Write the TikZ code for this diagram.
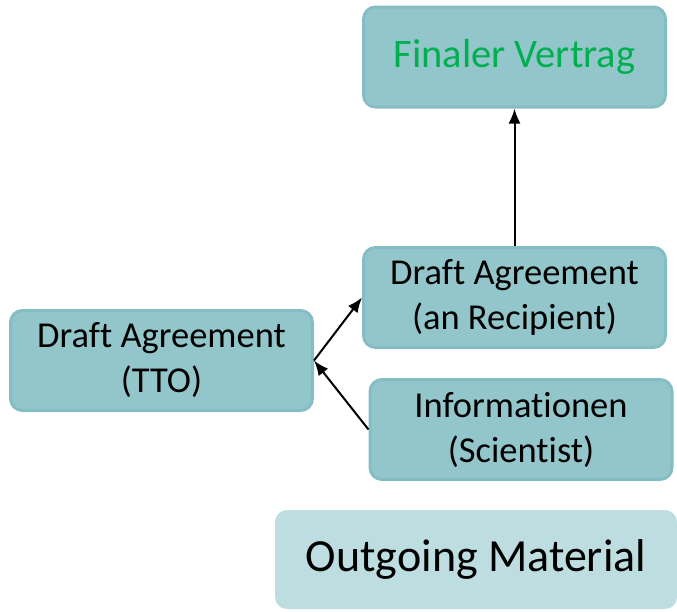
\documentclass[tikz,border=0pt]{standalone}
\usepackage{fontspec}
\setmainfont[Ligatures=NoCommon]{Carlito}
\usepackage{xcolor}
\usepackage{tikz}
\usetikzlibrary{arrows.meta, positioning}

\definecolor{boxfill}{HTML}{93C6CB}
\definecolor{boxline}{HTML}{84BEC4}
\definecolor{lightfill}{HTML}{BEDDE0}
\definecolor{finalgreen}{HTML}{00B050}

\begin{document}
\begin{tikzpicture}[
        x=1pt, y=-1pt,
        box/.style={rectangle, rounded corners=12pt, draw=boxline, line width=3pt, fill=boxfill, minimum width=302pt, minimum height=100pt, align=center, font=\fontsize{36.5}{45}\selectfont},
        tagbox/.style={rectangle, rounded corners=12pt, fill=lightfill, minimum width=402pt, minimum height=99pt, align=center, font=\fontsize{46}{55}\selectfont},
        arr/.style={-{Latex[length=15pt, width=12pt]}, line width=2pt}
    ]
        \useasboundingbox (0,0) rectangle (677,611);

        % Boxes
        \node (final) [box, font=\fontsize{40.5}{48}\selectfont, text=finalgreen] at (514.5,57) {Finaler Vertrag};
        \node (recipient) [box] at (514.5,297.5) {Draft Agreement\\(an Recipient)};
        \node (info) [box] at (521,429.5) {Informationen\\(Scientist)};
        \node (tto) [box] at (161.5,360.5) {Draft Agreement\\(TTO)};
        \node (outgoing) [tagbox] at (476,559.5) {Outgoing Material};

        % Arrows
        \draw [arr] (tto.east) -- (recipient.west);
        \draw [arr] (info.west) -- (tto.east);
        \draw [arr] (recipient.north) -- (final.south);
    \end{tikzpicture}
\end{document}
